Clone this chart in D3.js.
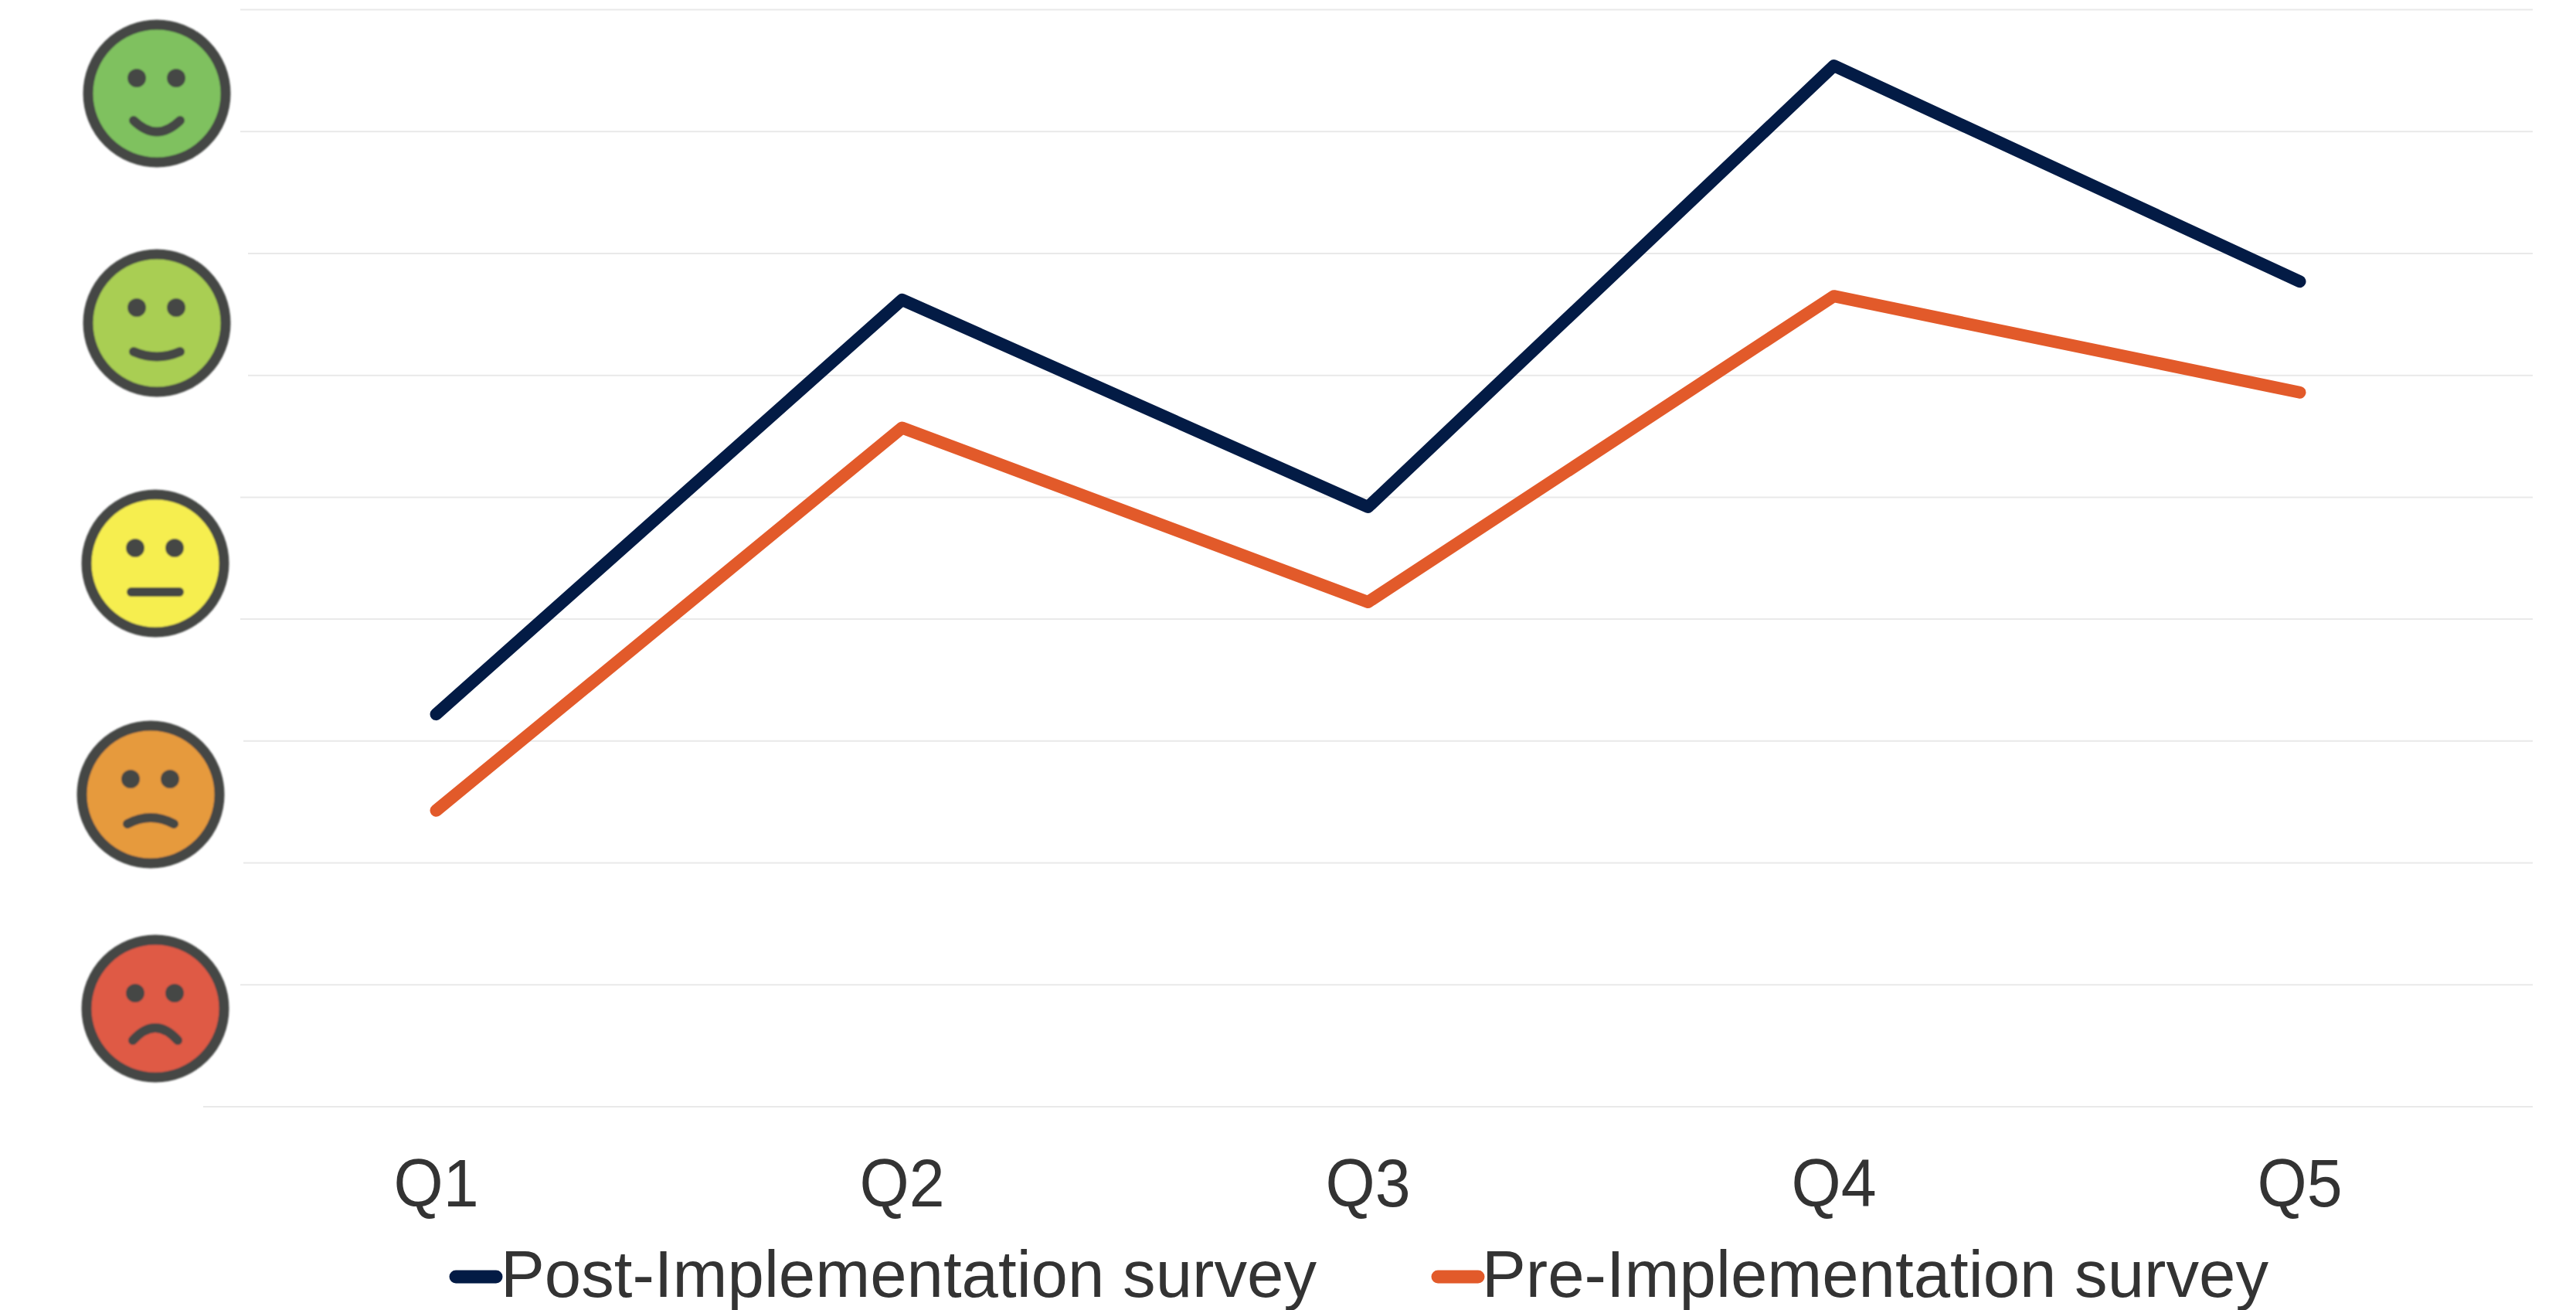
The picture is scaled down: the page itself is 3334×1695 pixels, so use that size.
<!DOCTYPE html>
<html>
<head>
<meta charset="utf-8">
<script src="https://cdn.jsdelivr.net/npm/d3@7"></script>
<style>
  html, body { margin: 0; background: #fff; }
  svg { display: block; }
  text { font-family: "Liberation Sans", Arial, sans-serif; fill: #333; }
</style>
</head>
<body>
<svg id="chart" width="3334" height="1695"></svg>
<script>
const questions = ["Q1", "Q2", "Q3", "Q4", "Q5"];
const postSurvey = [2.61, 4.31, 3.46, 5.27, 4.385];
const preSurvey = [2.215, 3.785, 3.07, 4.325, 3.93];
const gridValues = [1, 1.5, 2, 2.5, 3, 3.5, 4, 4.5, 5, 5.5];
const seriesNames = ["Post-Implementation survey", "Pre-Implementation survey"];
const faceRatings = [5, 4, 3, 2, 1];

const NAVY = "#031b45", ORANGE = "#e25a2a", INK = "#444644";
const faceFill = { 5: "#7fc15f", 4: "#a9ce52", 3: "#f6ee50", 2: "#e69a3c", 1: "#df5a44" };
// Mouth outlines in face-local units; rating picks the curve.
const mouthPath = {
  5: "M-30,35 Q0,64 30,35",
  4: "M-30,37 Q0,50 30,37",
  3: "M-31,37 L31,37",
  2: "M-30,38 Q0,22 30,38",
  1: "M-29,41 Q0,9 29,41"
};
// Placement of each face and the pale panel behind it.
const facePlacement = [
  { cx: 203, cy: 121, box: [90, 7, 221, 218] },
  { cx: 203, cy: 418, box: [88, 303, 233, 227] },
  { cx: 201, cy: 729, box: [78, 614, 233, 226] },
  { cx: 195, cy: 1028, box: [85, 917, 230, 225] },
  { cx: 201, cy: 1305, box: [92, 1197, 219, 225] }
];

const svg = d3.select("#chart");
const x = d3.scaleBand().domain(questions).range([263, 3278]);
const y = d3.scaleLinear().domain([1, 5.5]).range([1432, 12.5]);
const xCenter = q => x(q) + x.bandwidth() / 2;

// Horizontal gridlines
svg.append("g").selectAll("line").data(gridValues).join("line")
  .attr("x1", x.range()[0]).attr("x2", x.range()[1])
  .attr("y1", d => y(d)).attr("y2", d => y(d))
  .attr("stroke", "#e9e9e9").attr("stroke-width", 2);

// Rating faces down the left side
const defs = svg.append("defs");
defs.append("filter").attr("id", "soft")
  .append("feGaussianBlur").attr("stdDeviation", 1.3);

const faces = svg.append("g").selectAll("g").data(faceRatings).join("g");
faces.append("rect")
  .attr("x", (d, i) => facePlacement[i].box[0])
  .attr("y", (d, i) => facePlacement[i].box[1])
  .attr("width", (d, i) => facePlacement[i].box[2])
  .attr("height", (d, i) => facePlacement[i].box[3])
  .attr("fill", "#fff");
const face = faces.append("g")
  .attr("transform", (d, i) => `translate(${facePlacement[i].cx},${facePlacement[i].cy})`)
  .attr("filter", "url(#soft)");
face.append("circle").attr("r", 89)
  .attr("fill", d => faceFill[d]).attr("stroke", INK).attr("stroke-width", 13);
face.selectAll("circle.eye").data([-26, 25]).join("circle")
  .attr("class", "eye").attr("cx", d => d).attr("cy", -20).attr("r", 12).attr("fill", INK);
face.append("path").attr("d", d => mouthPath[d])
  .attr("fill", "none").attr("stroke", INK)
  .attr("stroke-width", 12).attr("stroke-linecap", "round");

// Survey lines
const line = d3.line().x((d, i) => xCenter(questions[i])).y(d => y(d));
svg.append("path").datum(preSurvey).attr("d", line)
  .attr("fill", "none").attr("stroke", ORANGE).attr("stroke-width", 16)
  .attr("stroke-linecap", "round").attr("stroke-linejoin", "round");
svg.append("path").datum(postSurvey).attr("d", line)
  .attr("fill", "none").attr("stroke", NAVY).attr("stroke-width", 16)
  .attr("stroke-linecap", "round").attr("stroke-linejoin", "round");

// Category labels
const axis = svg.append("g").attr("transform", "translate(0,1432)")
  .call(d3.axisBottom(x).tickSize(0).tickPadding(0));
axis.select(".domain").remove();
axis.selectAll("text")
  .attr("dy", null).attr("y", 129)
  .attr("font-size", 88)
  .attr("textLength", 110).attr("lengthAdjust", "spacingAndGlyphs");

// Legend
const legendColors = [NAVY, ORANGE];
const legendLayout = [
  { x1: 590, x2: 642, tx: 648, len: 1056 },
  { x1: 1861, x2: 1913, tx: 1918, len: 1018 }
];
const legend = svg.append("g").selectAll("g").data(seriesNames).join("g");
legend.append("line")
  .attr("x1", (d, i) => legendLayout[i].x1).attr("x2", (d, i) => legendLayout[i].x2)
  .attr("y1", 1652).attr("y2", 1652)
  .attr("stroke", (d, i) => legendColors[i]).attr("stroke-width", 17)
  .attr("stroke-linecap", "round");
legend.append("text")
  .attr("x", (d, i) => legendLayout[i].tx).attr("y", 1678)
  .attr("font-size", 86)
  .attr("textLength", (d, i) => legendLayout[i].len).attr("lengthAdjust", "spacingAndGlyphs")
  .text(d => d);
</script>
</body>
</html>
